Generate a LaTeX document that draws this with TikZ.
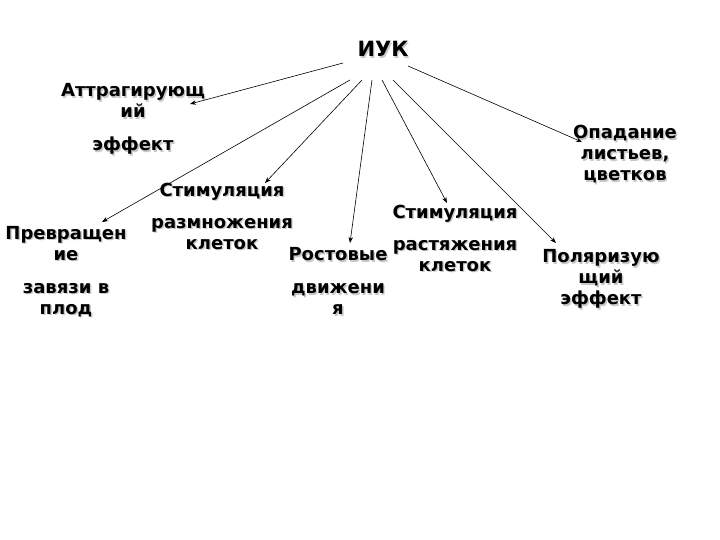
\documentclass[tikz,border=0pt]{standalone}
\usepackage{fontspec}
\setmainfont{DejaVu Sans}
\usepackage{tikz}
\usetikzlibrary{arrows.meta, positioning, calc}
\usepackage{xcolor}
\definecolor{ShadowGray}{RGB}{200,200,200}
\newcommand\shd[1]{\leavevmode\rlap{\kern1.4pt\raisebox{-1.4pt}{\color{ShadowGray}#1}}#1}
\tikzset{
  lbl/.style={align=center,inner sep=0pt,
    font=\bfseries\fontsize{18}{21}\selectfont},
  arrow/.style={-{Stealth[length=6pt,width=4.5pt]},line width=0.6pt,color=black}
}
\begin{document}
\begin{tikzpicture}[x=1pt,y=-1pt]
  \useasboundingbox (0,0) rectangle (720,540);
  % root and effects
  \node[lbl,font=\bfseries\fontsize{21}{24}\selectfont] (iuk) at (383,50) {\shd{ИУК}};
  \node[lbl] (attr) at (133,120) {\shd{Аттрагирующ}\\\shd{ий}\\[12pt]\shd{эффект}};
  \node[lbl] (prev) at (66,272) {\shd{Превращен}\\\shd{ие}\\[12pt]\shd{завязи в}\\\shd{плод}};
  \node[lbl] (stimr) at (222,217) {\shd{Стимуляция}\\[11pt]\shd{размножения}\\\shd{клеток}};
  \node[lbl] (rost) at (338,282) {\shd{Ростовые}\\[12pt]\shd{движени}\\\shd{я}};
  \node[lbl] (stimd) at (455,239) {\shd{Стимуляция}\\[11pt]\shd{растяжения}\\\shd{клеток}};
  \node[lbl] (opad) at (625,155) {\shd{Опадание}\\\shd{листьев,}\\\shd{цветков}};
  \node[lbl] (pol) at (601,280) {\shd{Поляризую}\\\shd{щий}\\\shd{эффект}};
  % arrow ends
  \coordinate (s1) at (343,63);  \coordinate (t1) at (190,104);
  \coordinate (s2) at (350,80);  \coordinate (t2) at (102,222);
  \coordinate (s3) at (362,80);  \coordinate (t3) at (265,183);
  \coordinate (s4) at (372,80);  \coordinate (t4) at (350,243);
  \coordinate (s5) at (382,80);  \coordinate (t5) at (447,203);
  \coordinate (s6) at (393,80);  \coordinate (t6) at (556,243);
  \coordinate (s7) at (408,66);  \coordinate (t7) at (582,142);
  \foreach \a/\b in {s1/t1,s2/t2,s3/t3,s4/t4,s5/t5,s6/t6,s7/t7} \draw[arrow] (\a)--(\b);
\end{tikzpicture}
\end{document}
